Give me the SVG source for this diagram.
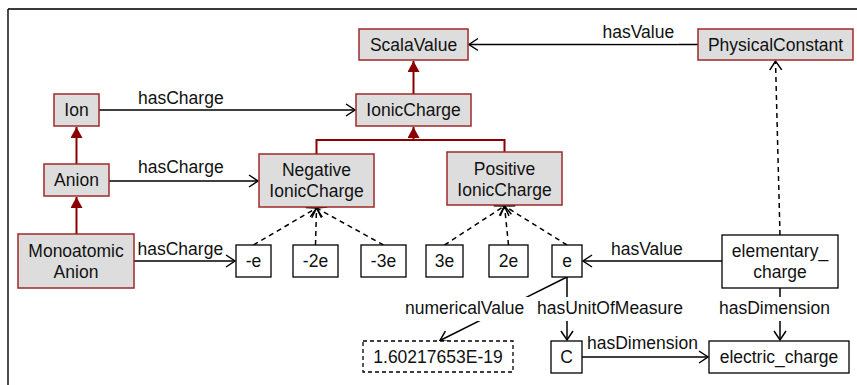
<svg xmlns="http://www.w3.org/2000/svg" width="857" height="385" viewBox="0 0 857 385">
<defs>
<style>
text{font-family:"Liberation Sans",Arial,sans-serif;font-size:17.5px;fill:#111}
.n rect{fill:#dddddd;stroke:#9e2a2a;stroke-width:1.5}
.w rect{fill:#fff;stroke:#000;stroke-width:1.3}
.dash rect{stroke-dasharray:4,3}
.n text,.w text{text-anchor:middle}
.e{fill:none;stroke:#000;stroke-width:1.5;marker-end:url(#open)}
.d{stroke-dasharray:5,4}
.g{fill:none;stroke:#8b0000;stroke-width:2}
.gi{marker-end:url(#tri)}
.bg{fill:#fff}
</style>
<marker id="open" markerUnits="userSpaceOnUse" markerWidth="12" markerHeight="16" refX="10" refY="7" orient="auto">
<path d="M1,1 L10,7 L1,13" fill="none" stroke="#000" stroke-width="1.5"/>
</marker>
<marker id="tri" markerUnits="userSpaceOnUse" markerWidth="13" markerHeight="14" refX="11" refY="6" orient="auto">
<path d="M0,0 L11,6 L0,12 z" fill="#8b0000"/>
</marker>
</defs>
<rect width="857" height="385" fill="#fff"/>
<path d="M8,9 L857,9" stroke="#3a3a3a" stroke-width="2" fill="none"/>
<path d="M8,9 L8,385" stroke="#000" stroke-width="1.4" fill="none"/>

<g id="connectors">
<path class="g" d="M316.5,154 L316.5,140 L504.5,140 L504.5,152"/>
<path class="g gi" d="M413.5,140 L413.5,127"/>
<path class="g gi" d="M413.5,94 L413.5,61"/>
<path class="g gi" d="M76.5,164 L76.5,127"/>
<path class="g gi" d="M76.5,234 L76.5,197"/>

<path class="e" d="M99,110 L355,110"/>
<rect class="bg" x="136" y="89" width="91" height="20"/>
<text x="138" y="104.3">hasCharge</text>

<path class="e" d="M109,181 L258,181"/>
<text x="138" y="173.3">hasCharge</text>

<path class="e" d="M134,261 L235,261"/>
<text x="137.5" y="255">hasCharge</text>

<path class="e" d="M698,44.5 L469,44.5"/>
<rect class="bg" x="600" y="23" width="79" height="20.5"/>
<text x="602.5" y="38.3">hasValue</text>

<path class="e" d="M722,261 L583,261"/>
<text x="611" y="255">hasValue</text>

<path class="e" d="M780,288 L780,340"/>
<path class="e" d="M567,277 L567,340"/>
<path class="e" d="M567,277 L440,340.5"/>
<rect class="bg" x="716" y="297" width="116" height="24"/>
<text x="719" y="314">hasDimension</text>
<rect class="bg" x="534" y="297" width="152" height="24"/>
<text x="537" y="314">hasUnitOfMeasure</text>
<rect class="bg" x="401" y="297" width="128" height="24"/>
<text x="405" y="314">numericalValue</text>

<path class="e" d="M582,357 L708,357"/>
<text x="587" y="348.5">hasDimension</text>

<path class="e d" d="M253.5,245 L316.5,208"/>
<path class="e d" d="M315.5,245 L316.5,208"/>
<path class="e d" d="M383.5,245 L316.5,208"/>
<path class="e d" d="M444.5,245 L504.5,206"/>
<path class="e d" d="M508.5,245 L504.5,206"/>
<path class="e d" d="M567,245 L504.5,206"/>
<path class="e d" d="M780,235 L775.5,61"/>
</g>

<g id="ScalaValue" class="n"><rect x="359" y="29" width="109" height="31"/><text x="413.5" y="50.8">ScalaValue</text></g>
<g id="PhysicalConstant" class="n"><rect x="698" y="29" width="155" height="31"/><text x="775.5" y="50.8">PhysicalConstant</text></g>
<g id="Ion" class="n"><rect x="54" y="94" width="45" height="32"/><text x="76.5" y="116.3">Ion</text></g>
<g id="IonicCharge" class="n"><rect x="356" y="94" width="115" height="32"/><text x="413.5" y="116.3">IonicCharge</text></g>
<g id="Anion" class="n"><rect x="44" y="164" width="65" height="32"/><text x="76.5" y="186.3">Anion</text></g>
<g id="NegativeIonicCharge" class="n"><rect x="259" y="154" width="115" height="53"/><text x="316.5" y="176"><tspan x="316.5">Negative</tspan><tspan x="316.5" dy="21">IonicCharge</tspan></text></g>
<g id="PositiveIonicCharge" class="n"><rect x="447" y="152" width="115" height="53"/><text x="504.5" y="174.5"><tspan x="504.5">Positive</tspan><tspan x="504.5" dy="21">IonicCharge</tspan></text></g>
<g id="MonoatomicAnion" class="n"><rect x="18" y="234" width="116" height="54"/><text x="76" y="256.5"><tspan x="76">Monoatomic</tspan><tspan x="76" dy="21">Anion</tspan></text></g>
<g id="neg_e" class="w"><rect x="236" y="245" width="35" height="32"/><text x="253.5" y="267.3">-e</text></g>
<g id="neg_2e" class="w"><rect x="293" y="245" width="45" height="32"/><text x="315.5" y="267.3">-2e</text></g>
<g id="neg_3e" class="w"><rect x="361" y="245" width="45" height="32"/><text x="383.5" y="267.3">-3e</text></g>
<g id="pos_3e" class="w"><rect x="426" y="245" width="37" height="32"/><text x="444.5" y="267.3">3e</text></g>
<g id="pos_2e" class="w"><rect x="489" y="245" width="39" height="32"/><text x="508.5" y="267.3">2e</text></g>
<g id="e" class="w"><rect x="552" y="245" width="30" height="32"/><text x="567" y="267.3">e</text></g>
<g id="elementary_charge" class="w"><rect x="722" y="235" width="116" height="53"/><text x="780" y="257"><tspan x="780">elementary_</tspan><tspan x="780" dy="21">charge</tspan></text></g>
<g id="numValue" class="w dash"><rect x="363" y="341" width="150" height="31"/><text x="438" y="362.8">1.60217653E-19</text></g>
<g id="C" class="w"><rect x="551" y="341" width="31" height="32"/><text x="566.5" y="363.3">C</text></g>
<g id="electric_charge" class="w"><rect x="709" y="341" width="140" height="32"/><text x="779" y="363.3">electric_charge</text></g>
</svg>
